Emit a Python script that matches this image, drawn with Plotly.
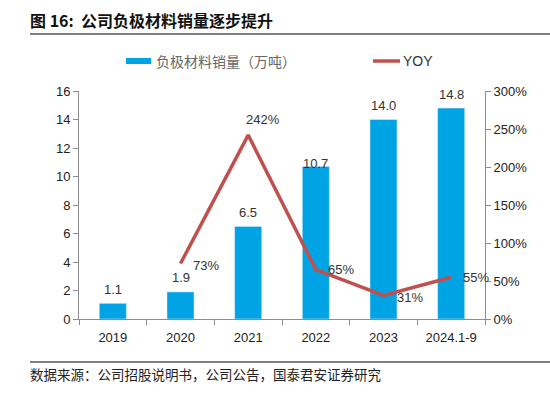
import plotly.graph_objects as go

categories = ["2019", "2020", "2021", "2022", "2023", "2024.1-9"]
sales = [1.1, 1.9, 6.5, 10.7, 14.0, 14.8]
yoy_cats = ["2020", "2021", "2022", "2023", "2024.1-9"]
yoy = [0.73, 2.42, 0.65, 0.31, 0.55]
sales_labels = ["1.1", "1.9", "6.5", "10.7", "14.0", "14.8"]
yoy_labels = ["73%", "242%", "65%", "31%", "55%"]
left_ticks = [0, 2, 4, 6, 8, 10, 12, 14, 16]
right_ticks = [0, 0.5, 1.0, 1.5, 2.0, 2.5, 3.0]
right_tick_labels = ["0%", "50%", "100%", "150%", "200%", "250%", "300%"]

BAR = "#00A3E3"
LINE = "#C0504D"
AX = "#8C8C8C"
FONT = "Liberation Sans, Arial, sans-serif"
CJK = "Noto Sans CJK SC"

W, H = 550, 395
L, R, T, B = 79, 65, 91, 76
pw, ph = W - L - R, H - T - B

def px(x):
    return (x - L) / pw

def py(y):
    return (H - B - y) / ph

# category index positions on the x axis
cat_pos = {c: i for i, c in enumerate(categories)}
bar_x = [cat_pos[c] for c in categories]
yoy_x = [cat_pos[c] for c in yoy_cats]

fig = go.Figure()
fig.add_trace(go.Bar(x=bar_x, y=sales, marker_color=BAR, width=0.4,
                     name="负极材料销量（万吨）", showlegend=False, hoverinfo="skip"))
fig.add_trace(go.Scatter(x=yoy_x, y=yoy, mode="lines", yaxis="y2",
                         line=dict(color=LINE, width=3.5), name="YOY",
                         showlegend=False, hoverinfo="skip"))

# bar value labels
bar_shift = [14, 14, 14, 3, 14, 14]
for xv, v, t, s in zip(bar_x, sales, sales_labels, bar_shift):
    fig.add_annotation(x=xv, y=v, xref="x", yref="y", text=t, showarrow=False,
                       yshift=s, font=dict(family=FONT, size=13, color="#333333"))

# yoy labels
yoy_dx = [10, -4, 10, 11, 10]
yoy_dy = [-2, 16, 0, -2, 0]
for xv, v, t, dx, dy in zip(yoy_x, yoy, yoy_labels, yoy_dx, yoy_dy):
    fig.add_annotation(x=xv, y=v, xref="x", yref="y2", text=t, showarrow=False,
                       xanchor="left", xshift=dx, yshift=dy,
                       font=dict(family=FONT, size=13, color="#333333"))

# title
fig.add_annotation(x=px(28), y=py(20), xref="paper", yref="paper",
                   text="<b>图 16:  公司负极材料销量逐步提升</b>",
                   showarrow=False, xanchor="left", yanchor="middle",
                   font=dict(family=CJK, size=16, color="#111111"))
# footer
fig.add_annotation(x=px(28), y=py(374), xref="paper", yref="paper",
                   text="数据来源：公司招股说明书，公司公告，国泰君安证券研究", showarrow=False,
                   xanchor="left", yanchor="middle",
                   font=dict(family=CJK, size=13.5, color="#222222"))
# legend (manual)
fig.add_annotation(x=px(154), y=py(61), xref="paper", yref="paper",
                   text="负极材料销量（万吨）", showarrow=False, xanchor="left", yanchor="middle",
                   font=dict(family=CJK, size=14, color="#666666"))
fig.add_annotation(x=px(401), y=py(61), xref="paper", yref="paper",
                   text="YOY", showarrow=False, xanchor="left", yanchor="middle",
                   font=dict(family=FONT, size=14, color="#333333"))

fig.add_shape(type="line", xref="paper", yref="paper", x0=px(30), x1=px(550), y0=py(34), y1=py(34),
              line=dict(color="#7F7F7F", width=2))
fig.add_shape(type="line", xref="paper", yref="paper", x0=px(30), x1=px(550), y0=py(362), y1=py(362),
              line=dict(color="#7F7F7F", width=2))
fig.add_shape(type="rect", xref="paper", yref="paper", x0=px(126), x1=px(151), y0=py(58), y1=py(64),
              fillcolor=BAR, line=dict(width=0))
fig.add_shape(type="line", xref="paper", yref="paper", x0=px(373), x1=px(400), y0=py(61), y1=py(61),
              line=dict(color=LINE, width=3.5))

# boundary ticks between categories (x axis)
bounds = [i - 0.5 for i in range(len(categories) + 1)]

fig.update_layout(
    width=W, height=H,
    margin=dict(l=L, r=R, t=T, b=B),
    paper_bgcolor="white", plot_bgcolor="white",
    xaxis=dict(range=[-0.5, len(categories) - 0.5], tickvals=bar_x, ticktext=categories,
               showline=True, linecolor=AX, linewidth=1, ticks="", showgrid=False, zeroline=False,
               ticklabelstandoff=6,
               tickfont=dict(family=FONT, size=13, color="#222222"),
               minor=dict(tickvals=bounds, ticks="outside", ticklen=5, tickcolor=AX, showgrid=False)),
    yaxis=dict(range=[0, 16], tickvals=left_ticks, showline=True, linecolor=AX, linewidth=1,
               ticks="outside", ticklen=5, tickcolor=AX, showgrid=False, zeroline=False,
               tickfont=dict(family=FONT, size=13, color="#222222")),
    yaxis2=dict(range=[0, 3], overlaying="y", side="right", tickvals=right_ticks,
                ticktext=right_tick_labels, showline=True, linecolor=AX, linewidth=1,
                ticks="outside", ticklen=5, tickcolor=AX, showgrid=False, zeroline=False,
                tickfont=dict(family=FONT, size=13, color="#222222")),
    showlegend=False,
)

fig.write_html("out.html", config={"displayModeBar": False},
               post_script="document.body.style.margin='0';")
